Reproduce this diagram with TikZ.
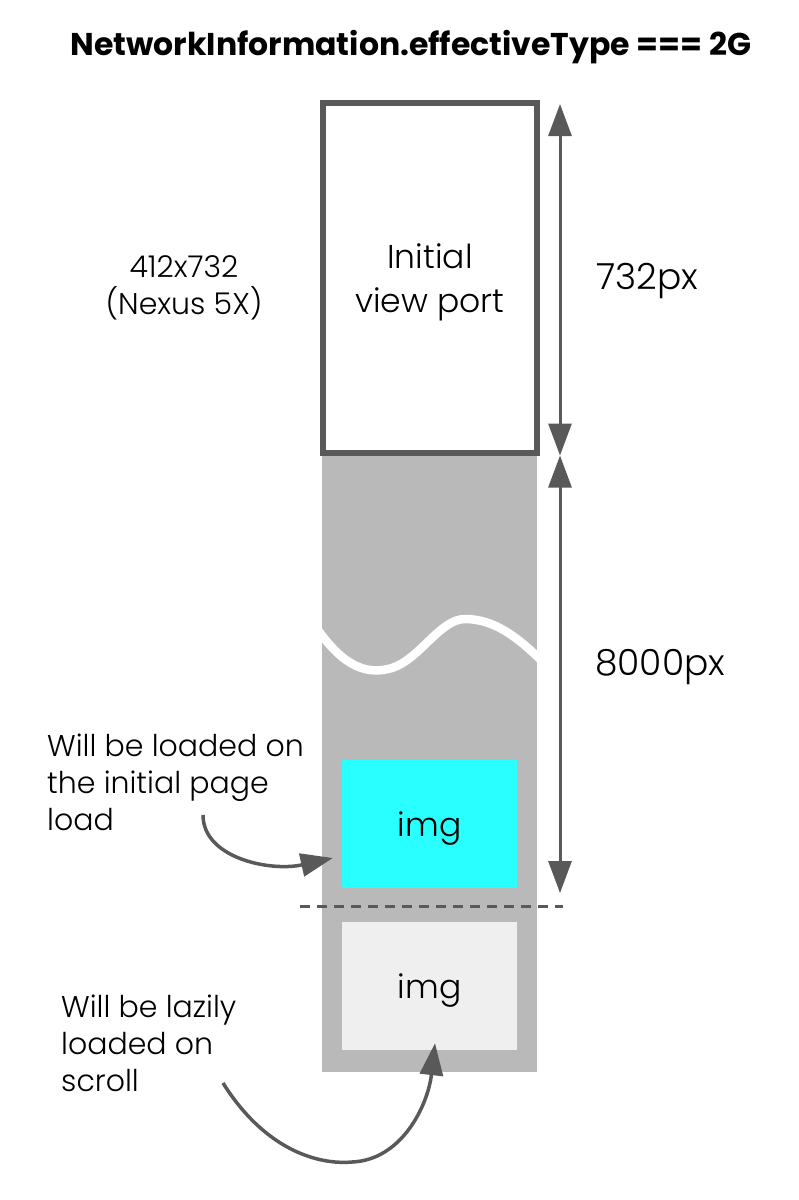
\documentclass[tikz,border=0pt]{standalone}
\usepackage{fontspec}
\setmainfont{Poppins Light}[BoldFont=Poppins Bold]
\usetikzlibrary{arrows.meta,calc}
\definecolor{cInk}{HTML}{595959}
\definecolor{cPage}{HTML}{B9B9B9}
\definecolor{cNow}{HTML}{29FFFF}
\definecolor{cLater}{HTML}{EFEFEF}

\begin{document}
\begin{tikzpicture}[
  x=1pt, y=-1pt,
  >={Triangle[length=32pt, width=23pt]},
  lbl/.style={font=\fontsize{30}{37}\selectfont, align=left, inner sep=0pt},
  big/.style={font=\fontsize{36}{44}\selectfont, inner sep=0pt},
  vport/.style={draw=cInk, line width=6pt, fill=white,
                minimum width=214pt, minimum height=350pt},
  pagecol/.style={fill=cPage, inner sep=0pt, minimum width=215pt, minimum height=616pt},
  imgbox/.style={inner sep=0pt, minimum width=175pt, minimum height=128pt,
                 font=\fontsize{33}{40}\selectfont},
  dim/.style={<->, draw=cInk, line width=3pt},
  note/.style={->, draw=cInk, line width=3.5pt},
  cut/.style={draw=cInk, line width=3pt, dash pattern=on 10pt off 7pt},
  wave/.style={draw=white, line width=8.5pt}]
\useasboundingbox (0,0) rectangle (799,1200);

% ================= title =================
\node[font=\fontsize{31.5}{36}\selectfont\bfseries, inner sep=0pt] (title) at (411,47)
  {NetworkInformation.effectiveType === 2G};

% ================= page column =================
\node[pagecol, anchor=north] (pg) at (429.5,456) {};
\node[vport] (vp) at (430,278) {};
\node[align=center, font=\fontsize{33}{44}\selectfont] (vptxt) at ([yshift=-4pt]vp.center)
  {Initial\\view port};
% torn part of the page
\draw[wave] (318,630) .. controls (345,668) and (368,675) .. (392,668)
  .. controls (420,659) and (440,619) .. (465,619)
  .. controls (495,619) and (518,638) .. (541,660);
\node[imgbox, fill=cNow] (img1) at (429.5,824) {\raisebox{-5pt}[\height][\depth]{img}};
\node[imgbox, fill=cLater] (img2) at (429.5,986) {\raisebox{-5pt}[\height][\depth]{img}};
\coordinate (cutL) at (300,906);
\coordinate (cutR) at (563,906);
\draw[cut] (cutL) -- (cutR);

% ================= dimensions =================
\coordinate (d0) at (560,104);
\coordinate (d1) at (560,455.5);
\coordinate (d2) at (560,893);
\draw[dim] (d0) -- (d1);
\draw[dim] (d1) -- (d2);
\node[big, anchor=base west] (h1) at (596,289) {732px};
\node[big, anchor=base west] (h2) at (595,675) {8000px};

% ================= side notes =================
\node[lbl, align=center] (dev) at (184,288)
  {412x732\\(Nexus 5X)};
\node[lbl, anchor=west] (nowtxt) at (47,782)
  {Will be loaded on\\the initial page\\load};
\node[lbl, anchor=west] (latertxt) at (61,1043)
  {Will be lazily\\loaded on\\scroll};
\coordinate (nowfrom) at (203,815);
\coordinate (laterfrom) at (223,1083);
\draw[note] (nowfrom) .. controls (203,858) and (270,872) .. ([xshift=-9pt, yshift=-34pt]img1.west);
\draw[note] (laterfrom) .. controls (265,1150) and (318,1165) .. (352,1162)
  .. controls (402,1160) and (428,1105) .. ([xshift=5.5pt, yshift=7pt]img2.south);
\end{tikzpicture}
\end{document}
